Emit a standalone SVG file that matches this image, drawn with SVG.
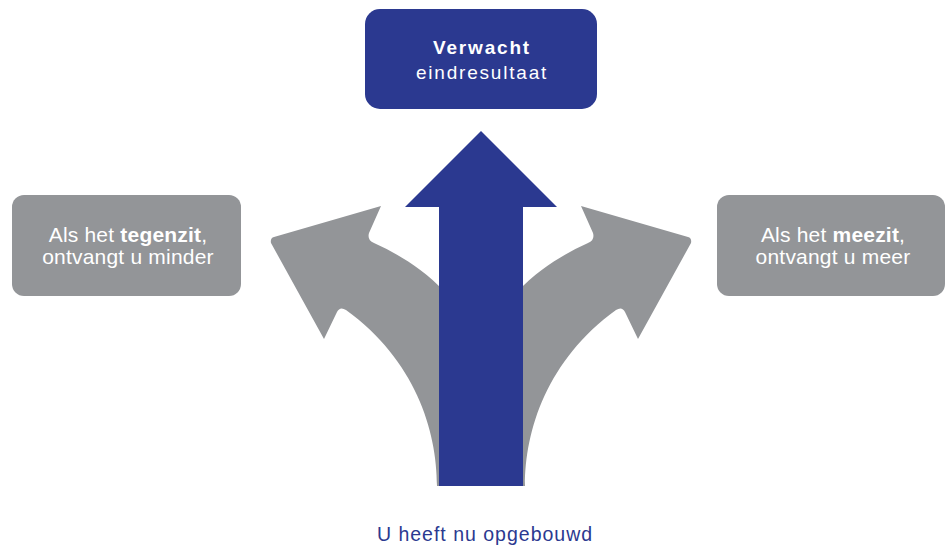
<svg xmlns="http://www.w3.org/2000/svg" width="946" height="548" viewBox="0 0 946 548">
  <style>
    .gray { fill: #939598; }
    .blue { fill: #2b3990; }
    .txt { font-family: "Liberation Sans", Arial, sans-serif; fill: #ffffff; text-anchor: middle; }
    .side { font-size: 21px; letter-spacing: 0.2px; }
    .top { font-size: 19px; letter-spacing: 1.8px; }
    .b { font-weight: bold; }
    .foot { font-family: "Liberation Sans", Arial, sans-serif; fill: #2b3990; font-size: 19.5px; letter-spacing: 1px; text-anchor: middle; }
  </style>
  <defs>
    <path id="leftArrow" d="M 274,237 L 381,206 L 369,233 Q 367,240 374,243 C 398,254 422,268 445,292 L 445,486 L 437,486 C 437,430 415,360 346,310 Q 340,306 337,312 L 324,339 L 271,243 Q 270,238 274,237 Z"/>
  </defs>
  <g id="connectors">
    <use href="#leftArrow" class="gray"/>
    <use href="#leftArrow" class="gray" transform="matrix(-1 0 0 1 962 0)"/>
    <polygon class="blue" points="481,131 557,207 523,207 523,486 439,486 439,207 405,207"/>
  </g>
  <g id="node-top">
    <rect class="blue" x="365" y="9" width="232" height="100" rx="15"/>
    <text class="txt top b" x="482" y="54">Verwacht</text>
    <text class="txt top" x="482" y="79">eindresultaat</text>
  </g>
  <g id="node-left">
    <rect class="gray" x="12" y="195" width="229" height="101" rx="12"/>
    <text class="txt side" x="128" y="242">Als het <tspan class="b">tegenzit</tspan>,</text>
    <text class="txt side" x="128" y="264">ontvangt u minder</text>
  </g>
  <g id="node-right">
    <rect class="gray" x="717" y="195" width="228" height="101" rx="12"/>
    <text class="txt side" x="833" y="242">Als het <tspan class="b">meezit</tspan>,</text>
    <text class="txt side" x="833" y="264">ontvangt u meer</text>
  </g>
  <g id="node-bottom">
    <text class="foot" x="485" y="541">U heeft nu opgebouwd</text>
  </g>
</svg>
